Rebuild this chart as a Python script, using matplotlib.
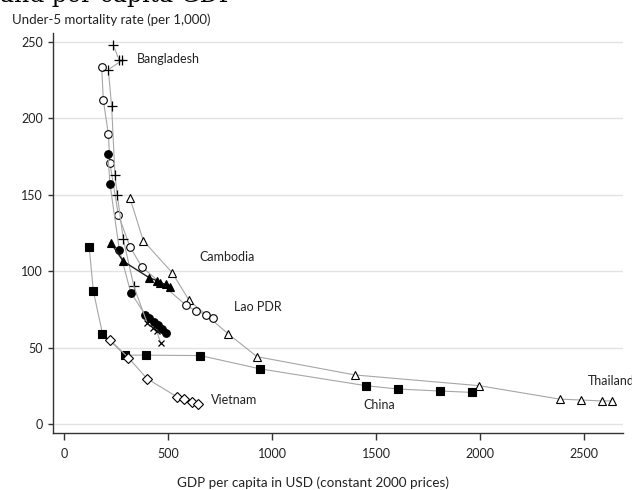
import matplotlib
matplotlib.use("Agg")
import matplotlib.pyplot as plt

plt.rcParams['font.family'] = ['Lato', 'DejaVu Sans']

# GDP per capita (USD, constant 2000) and under-5 mortality (per 1,000)
bgd_gdp = [236, 265, 278, 212, 228, 244, 255, 284, 335]
bgd_u5 = [248, 238, 238, 232, 208, 163, 150, 121, 90]
bgd2_gdp = [335, 399, 426, 445, 464]
bgd2_u5 = [90, 66, 63, 60.5, 53]

ind_gdp = [180, 188, 212, 220, 260, 316, 372, 586, 634, 682, 714]
ind_u5 = [234, 212, 190, 170.6, 137, 116, 103, 77.6, 74, 71.5, 69]

lao_gdp = [210, 220, 265, 320, 389, 410, 430, 450, 470, 490]
lao_u5 = [177, 157, 114, 86, 71.5, 69, 67, 64.5, 62, 59.5]

khm_gdp = [223, 284, 410, 448, 462, 487, 509]
khm_u5 = [118.6, 106.5, 95.6, 93.7, 92.5, 91.3, 89.5]

tha_gdp = [316, 380, 519, 600, 788, 927, 1399, 1995, 2382, 2487, 2586, 2634]
tha_u5 = [148, 120, 99, 81, 59, 44, 32, 25, 16.2, 15.6, 15, 15]

chn_gdp = [120, 140, 184, 292, 393, 655, 942, 1450, 1604, 1808, 1960]
chn_u5 = [116, 87, 59, 45, 45, 44.7, 36, 25, 22.8, 21.5, 20.6]

vnm_gdp = [220, 308, 398, 541, 577, 613, 645]
vnm_u5 = [55, 43.4, 29.6, 17.8, 16.3, 14.5, 13]

labels = ['Bangladesh', 'Cambodia', 'Lao PDR', 'Vietnam', 'China', 'Thailand']
label_x = [350, 650, 818, 704, 1439, 2516]
label_y = [239, 109, 76.5, 15.4, 12.1, 27.8]

fig = plt.figure(figsize=(6.32, 4.90), dpi=100)
ax = fig.add_axes([53 / 632, 1 - 433 / 490, 570 / 632, 400 / 490])

gray = '#a6a6a6'
ax.plot(tha_gdp, tha_u5, color=gray, lw=0.8, marker='^', ms=6, mfc='white', mec='black', mew=0.8)
ax.plot(ind_gdp, ind_u5, color=gray, lw=0.8, marker='o', ms=5.5, mfc='white', mec='black', mew=0.8)
ax.plot(chn_gdp, chn_u5, color=gray, lw=0.8, marker='s', ms=5.5, mfc='black', mec='black', mew=0.8)
ax.plot(vnm_gdp, vnm_u5, color=gray, lw=0.8, marker='D', ms=5, mfc='white', mec='black', mew=0.8)
ax.plot(lao_gdp, lao_u5, color=gray, lw=0.8, marker='o', ms=5.5, mfc='black', mec='black', mew=0.8)
ax.plot(bgd_gdp, bgd_u5, color=gray, lw=0.8, marker='+', ms=7, mec='black', mew=0.9)
ax.plot(bgd2_gdp, bgd2_u5, color=gray, lw=0.8, marker='x', ms=5, mec='black', mew=0.9, markevery=[1, 2, 3, 4])
ax.plot(khm_gdp, khm_u5, color='#222222', lw=1.0, marker='^', ms=6, mfc='black', mec='black', mew=0.8)

for name, lx, ly in zip(labels, label_x, label_y):
    ax.text(lx, ly, name, fontsize=9, va='center', ha='left', color='#222222', clip_on=False)

ax.set_xlim(-54, 2687)
ax.set_ylim(-6, 256)
ax.set_xticks([0, 500, 1000, 1500, 2000, 2500])
ax.set_yticks([0, 50, 100, 150, 200, 250])
ax.yaxis.grid(True, color='#e3e3e3', lw=1.0)
ax.set_axisbelow(True)
for s in ['top', 'right']:
    ax.spines[s].set_visible(False)
for s in ['left', 'bottom']:
    ax.spines[s].set_color('#333333')
    ax.spines[s].set_linewidth(1.0)
ax.tick_params(axis='y', length=3.6, width=1.0, pad=3.5, labelsize=9, colors='#333333', labelcolor='#222222')
ax.tick_params(axis='x', length=5.3, width=1.0, pad=5.5, labelsize=9, colors='#333333', labelcolor='#222222')

fig.text(12 / 632, 1 - 20 / 490, 'Under-5 mortality rate (per 1,000)', fontsize=9.5, va='center', ha='left', color='#222222')
fig.text(313 / 632, 1 - 483 / 490, 'GDP per capita in USD (constant 2000 prices)', fontsize=9.7, va='center', ha='center', color='#222222')
# fragment of a heading cut off by the top edge in the source image
fig.text(0.0, 1 - 2 / 490, 'and per capita GDP', fontsize=17, va='baseline', ha='left', family='DejaVu Serif', color='black')

fig.savefig('out.png', dpi=100)
